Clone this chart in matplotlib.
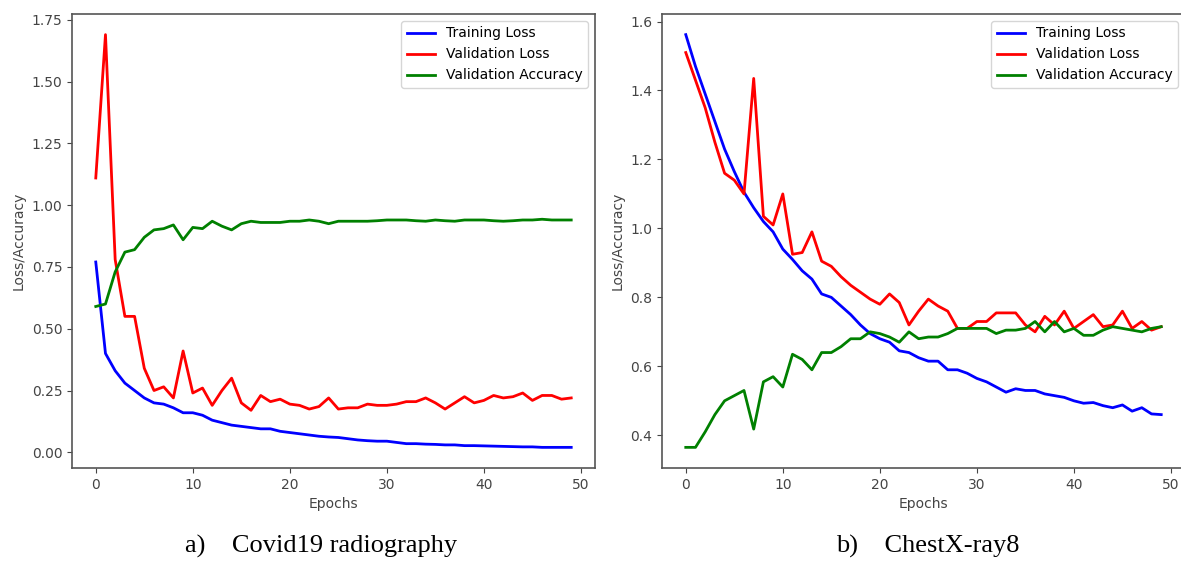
from matplotlib import pyplot as plt
import numpy as np

#================================================================================================
# epochs 0..49
epochs = np.arange(50)

# a) Covid19 radiography
covidTrainLoss = [0.77, 0.40, 0.33, 0.28, 0.25, 0.22, 0.20, 0.195, 0.18, 0.16,
                  0.16, 0.15, 0.13, 0.12, 0.11, 0.105, 0.10, 0.095, 0.095, 0.085,
                  0.08, 0.075, 0.07, 0.065, 0.062, 0.06, 0.055, 0.05, 0.047, 0.045,
                  0.045, 0.04, 0.035, 0.035, 0.033, 0.032, 0.03, 0.03, 0.027, 0.027,
                  0.026, 0.025, 0.024, 0.023, 0.022, 0.022, 0.02, 0.02, 0.02, 0.02]
covidValLoss = [1.11, 1.69, 0.78, 0.55, 0.55, 0.34, 0.25, 0.265, 0.22, 0.41,
                0.24, 0.26, 0.19, 0.25, 0.30, 0.20, 0.17, 0.23, 0.205, 0.215,
                0.195, 0.19, 0.175, 0.185, 0.22, 0.175, 0.18, 0.18, 0.195, 0.19,
                0.19, 0.195, 0.205, 0.205, 0.22, 0.20, 0.175, 0.20, 0.225, 0.20,
                0.21, 0.23, 0.22, 0.225, 0.24, 0.21, 0.23, 0.23, 0.215, 0.22]
covidValAcc = [0.59, 0.60, 0.73, 0.81, 0.82, 0.87, 0.90, 0.905, 0.92, 0.86,
               0.91, 0.905, 0.935, 0.915, 0.90, 0.925, 0.935, 0.93, 0.93, 0.93,
               0.935, 0.935, 0.94, 0.935, 0.925, 0.935, 0.935, 0.935, 0.935, 0.937,
               0.94, 0.94, 0.94, 0.937, 0.935, 0.94, 0.937, 0.935, 0.94, 0.94,
               0.94, 0.937, 0.935, 0.937, 0.94, 0.94, 0.943, 0.94, 0.94, 0.94]

# b) ChestX-ray8
chestTrainLoss = [1.562, 1.47, 1.39, 1.31, 1.23, 1.165, 1.105, 1.06, 1.02, 0.99,
                  0.94, 0.91, 0.877, 0.853, 0.81, 0.80, 0.775, 0.75, 0.72, 0.695,
                  0.68, 0.67, 0.645, 0.64, 0.625, 0.615, 0.615, 0.59, 0.59, 0.58,
                  0.565, 0.555, 0.54, 0.525, 0.535, 0.53, 0.53, 0.52, 0.515, 0.51,
                  0.50, 0.493, 0.495, 0.486, 0.48, 0.488, 0.47, 0.48, 0.462, 0.46]
chestValLoss = [1.51, 1.43, 1.35, 1.25, 1.16, 1.14, 1.10, 1.435, 1.035, 1.01,
                1.10, 0.925, 0.93, 0.99, 0.905, 0.89, 0.86, 0.835, 0.815, 0.795,
                0.78, 0.81, 0.785, 0.72, 0.76, 0.795, 0.775, 0.76, 0.71, 0.71,
                0.73, 0.73, 0.755, 0.755, 0.755, 0.72, 0.70, 0.745, 0.72, 0.76,
                0.71, 0.73, 0.75, 0.715, 0.72, 0.76, 0.71, 0.73, 0.705, 0.715]
chestValAcc = [0.365, 0.365, 0.41, 0.46, 0.50, 0.515, 0.53, 0.418, 0.555, 0.57,
               0.54, 0.635, 0.62, 0.59, 0.64, 0.64, 0.657, 0.68, 0.68, 0.70,
               0.695, 0.685, 0.67, 0.70, 0.68, 0.685, 0.685, 0.695, 0.71, 0.71,
               0.71, 0.71, 0.695, 0.705, 0.705, 0.71, 0.73, 0.70, 0.73, 0.70,
               0.71, 0.69, 0.69, 0.705, 0.715, 0.71, 0.705, 0.70, 0.71, 0.715]

captions = ['a)    Covid19 radiography', 'b)    ChestX-ray8']

#================================================================================================
def plotPanel(ax, trainLoss, valLoss, valAcc):
    ax.plot(epochs, trainLoss, color='b', linewidth=2, label='Training Loss')
    ax.plot(epochs, valLoss, color='r', linewidth=2, label='Validation Loss')
    ax.plot(epochs, valAcc, color='g', linewidth=2, label='Validation Accuracy')
    ax.set_xlabel('Epochs', color='#444444')
    ax.set_ylabel('Loss/Accuracy', color='#444444')
    ax.tick_params(colors='#444444')
    for s in ax.spines.values():
        s.set_color('#555555')
        s.set_linewidth(1.2)
    ax.legend(loc='upper right', fontsize=10)


def main():
    fig = plt.figure(figsize=(11.81, 5.61), dpi=100)
    ax1 = fig.add_axes([72/1181, 1-468/561, 523/1181, 454/561])
    ax2 = fig.add_axes([662/1181, 1-468/561, 523/1181, 454/561])
    plotPanel(ax1, covidTrainLoss, covidValLoss, covidValAcc)
    plotPanel(ax2, chestTrainLoss, chestValLoss, chestValAcc)
    ax1.set_yticks([0.0, 0.25, 0.5, 0.75, 1.0, 1.25, 1.5, 1.75])
    fig.text(185/1181, 1-546/561, captions[0], family='Liberation Serif',
             fontsize=19, ha='left', va='center')
    fig.text(836/1181, 1-546/561, captions[1], family='Liberation Serif',
             fontsize=19, ha='left', va='center')
    fig.savefig('out.png', dpi=100)


if __name__ == "__main__":
    main()
